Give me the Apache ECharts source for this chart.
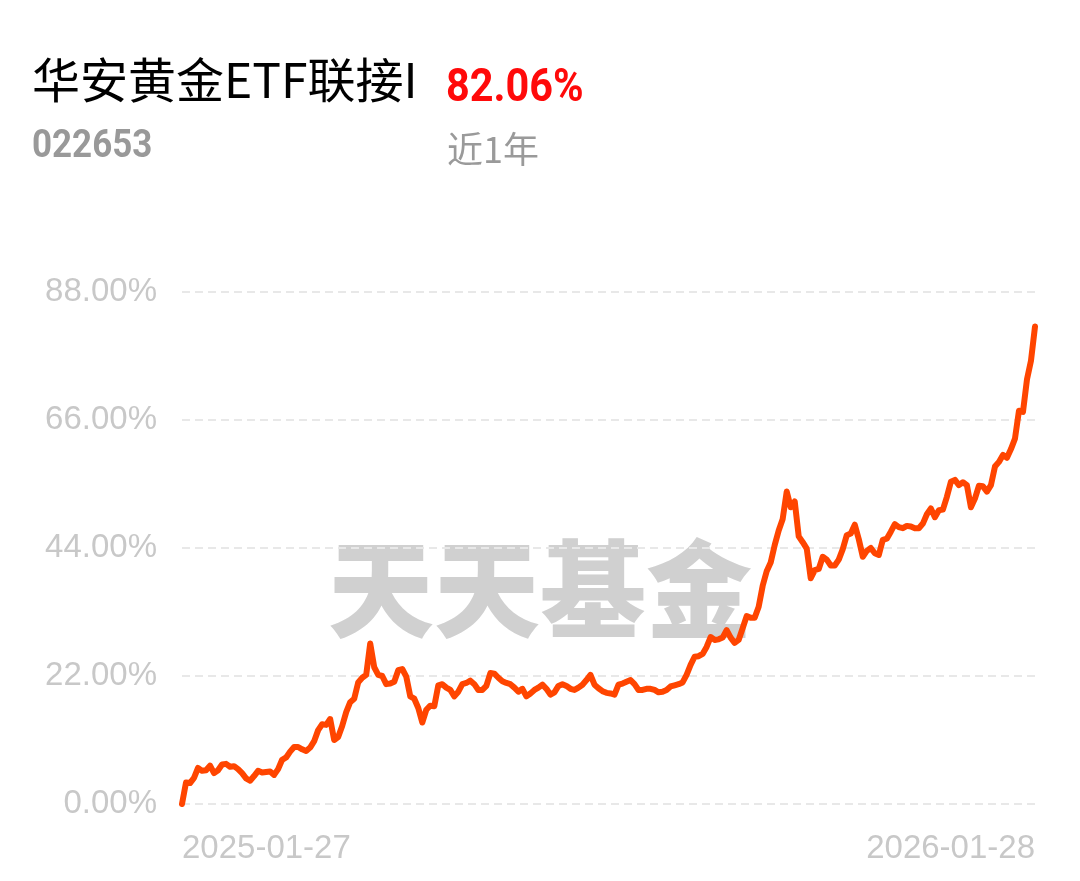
<!DOCTYPE html>
<html>
<head>
<meta charset="utf-8">
<script src="https://cdn.jsdelivr.net/npm/echarts@6/dist/echarts.min.js"></script>
<style>
  html, body { margin: 0; padding: 0; background: #fff; }
  #chart { width: 1080px; height: 881px; }
</style>
</head>
<body>
<div id="chart"></div>
<script>
const fundName = '华安黄金ETF联接I'
const fundCode = '022653'
const periodReturn = '82.06%'
const periodLabel = '近1年'
const startLabel = '2025-01-27'
const endLabel = '2026-01-28'
const yTicks = [0, 22, 44, 66, 88]

// cumulative return (%)
const returns = [
  0.0, 3.7, 3.6, 4.5, 6.2, 5.7, 5.8, 6.6, 5.3, 5.8, 6.8, 6.9, 6.4, 6.5, 6.0, 5.3,
  4.4, 4.0, 4.8, 5.7, 5.4, 5.5, 5.6, 5.0, 6.0, 7.6, 8.0, 9.0, 9.8, 9.8, 9.4, 9.1,
  9.7, 10.8, 12.7, 13.7, 13.6, 14.6, 11.0, 11.5, 13.4, 15.8, 17.5, 18.1, 20.9, 21.7,
  22.2, 27.6, 23.5, 22.2, 22.0, 20.6, 20.7, 21.0, 23.0, 23.2, 21.9, 18.5, 18.1, 16.5,
  14.0, 16.2, 16.9, 16.8, 20.4, 20.6, 20.0, 19.6, 18.5, 19.3, 20.6, 20.8, 21.2, 20.6,
  19.6, 19.6, 20.3, 22.5, 22.4, 21.7, 21.1, 20.8, 20.6, 20.0, 19.3, 19.8, 18.5, 19.0,
  19.6, 20.0, 20.5, 19.8, 18.8, 19.2, 20.3, 20.6, 20.3, 19.8, 19.6, 20.0, 20.5, 21.3,
  22.2, 20.5, 19.9, 19.4, 19.1, 19.0, 18.8, 20.5, 20.7, 21.0, 21.3, 20.6, 19.6, 19.6,
  19.8, 19.8, 19.6, 19.2, 19.3, 19.6, 20.2, 20.4, 20.6, 20.9, 22.2, 23.9, 25.3, 25.4,
  25.8, 27.0, 28.7, 28.2, 28.3, 28.6, 29.9, 28.6, 27.7, 28.2, 30.2, 32.3, 32.0, 32.0,
  33.9, 37.5, 40.0, 41.5, 44.5, 47.0, 49.0, 53.7, 51.0, 52.0, 46.0, 45.0, 43.9, 38.8,
  40.2, 40.4, 42.5, 42.0, 41.0, 41.0, 42.0, 43.8, 46.2, 46.5, 48.0, 45.5, 42.5, 43.5,
  44.0, 43.1, 42.8, 45.4, 45.6, 46.8, 48.1, 47.6, 47.4, 47.8, 47.7, 47.4, 47.4, 48.2,
  49.8, 50.8, 49.3, 50.5, 50.6, 52.8, 55.4, 55.7, 54.8, 55.3, 54.8, 51.0, 52.5, 54.7,
  54.6, 53.7, 54.8, 58.0, 58.8, 60.0, 59.5, 61.0, 62.8, 67.6, 67.4, 73.0, 76.2, 82.06
]

const categories = returns.map((v, i) =>
  i === 0 ? startLabel : (i === returns.length - 1 ? endLabel : String(i)))

const option = {
  backgroundColor: '#fff',
  animation: false,
  grid: { left: 182, right: 45, top: 292, bottom: 77 },
  graphic: [
    { type: 'text', left: 32, top: 56, style: { text: fundName, fill: '#000', font: '48px "Noto Sans CJK SC", "Noto Sans", sans-serif' } },
    { type: 'text', x: 446, y: 66, scaleX: 0.9, style: { text: periodReturn, fill: '#ff0a0a', font: 'bold 46px "Roboto", sans-serif' } },
    { type: 'text', x: 32, y: 128, scaleX: 0.92, style: { text: fundCode, fill: '#999', font: 'bold 38px "Roboto", sans-serif' } },
    { type: 'text', left: 447, top: 131, style: { text: periodLabel, fill: '#9a9a9a', font: '36px "Noto Sans CJK SC", sans-serif' } },
    { type: 'text', left: 'center', top: 536, z: -10, style: { text: '天天基金', fill: '#d0d0d0', font: '900 106px "Noto Sans CJK SC", sans-serif' } }
  ],
  xAxis: {
    type: 'category',
    data: categories,
    boundaryGap: false,
    axisLine: { show: false },
    axisTick: { show: false },
    axisLabel: {
      interval: (i) => i === 0 || i === categories.length - 1,
      color: '#c8c8c8',
      fontSize: 33,
      fontFamily: 'Liberation Sans, Arial, sans-serif',
      margin: 28,
      alignMinLabel: 'left',
      alignMaxLabel: 'right'
    }
  },
  yAxis: {
    type: 'value',
    min: yTicks[0],
    max: yTicks[yTicks.length - 1],
    interval: yTicks[1] - yTicks[0],
    axisLine: { show: false },
    axisTick: { show: false },
    axisLabel: {
      formatter: (v) => v.toFixed(2) + '%',
      color: '#c8c8c8',
      fontSize: 33,
      fontFamily: 'Liberation Sans, Arial, sans-serif',
      margin: 25
    },
    splitLine: { lineStyle: { color: '#e8e8e8', width: 2, type: [8, 5] } }
  },
  series: [{
    type: 'line',
    data: returns,
    showSymbol: false,
    lineStyle: { color: '#ff4500', width: 6, join: 'round', cap: 'round' },
    z: 5
  }]
}

const chart = echarts.init(document.getElementById('chart'))
chart.setOption(option)
</script>
</body>
</html>
